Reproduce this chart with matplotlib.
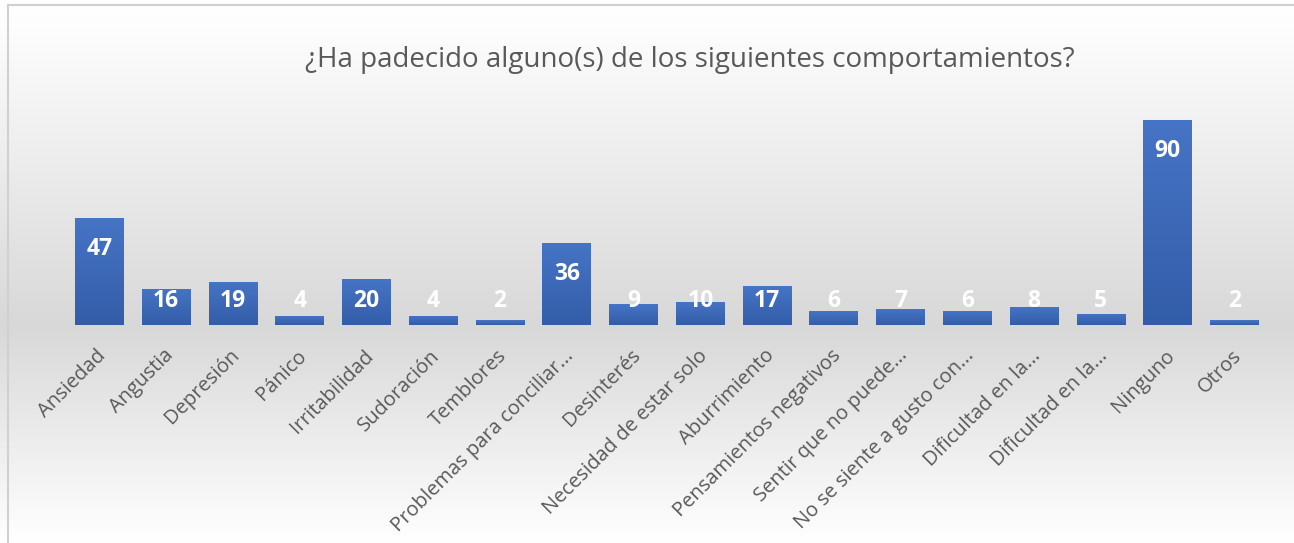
import matplotlib
matplotlib.use("Agg")
import matplotlib.pyplot as plt
import matplotlib.transforms as mtransforms
from matplotlib.colors import LinearSegmentedColormap
import numpy as np

categories = ["Ansiedad", "Angustia", "Depresión", "Pánico", "Irritabilidad",
              "Sudoración", "Temblores", "Problemas para conciliar...", "Desinterés",
              "Necesidad de estar solo", "Aburrimiento", "Pensamientos negativos",
              "Sentir que no puede...", "No se siente a gusto con...",
              "Dificultad en la...", "Dificultad en la...", "Ninguno", "Otros"]
values = [47, 16, 19, 4, 20, 4, 2, 36, 9, 10, 17, 6, 7, 6, 8, 5, 90, 2]
title = "¿Ha padecido alguno(s) de los siguientes comportamientos?"

plt.rcParams['font.family'] = ['Open Sans', 'DejaVu Sans']

fig = plt.figure(figsize=(12.94, 5.43), dpi=100)

# background gradient (white -> light gray -> white)
bg = fig.add_axes([0, 0, 1, 1], zorder=0)
bg_cmap = LinearSegmentedColormap.from_list(
    "bg", [(0.0, "#ffffff"), (0.05, "#fdfdfd"), (0.6, "#d8d8d8"), (1.0, "#ffffff")])
grad = np.linspace(0, 1, 256).reshape(-1, 1)
bg.imshow(grad, cmap=bg_cmap, aspect="auto", extent=[0, 1, 0, 1], origin="upper")
bg.set_xlim(0, 1)
bg.set_ylim(0, 1)
bg.axis("off")
# chart border (left and top)
bg.plot([8 / 1294, 8 / 1294], [0, 1 - 5 / 543], color="#d0d0d0", lw=1.5)
bg.plot([8 / 1294, 1], [1 - 5 / 543, 1 - 5 / 543], color="#d0d0d0", lw=1.5)

ax = fig.add_axes([66.1 / 1294, (543 - 325) / 543, 1201.7 / 1294, 227.8 / 543], zorder=1)
ax.patch.set_alpha(0)

x = np.arange(len(categories))
width = 0.73
bars = ax.bar(x, values, width=width, color="#3d67b7", zorder=2)

bar_cmap = LinearSegmentedColormap.from_list("bar", ["#4674c6", "#335da8"])
bar_grad = np.linspace(0, 1, 100).reshape(-1, 1)
for b in bars:
    im = ax.imshow(bar_grad, cmap=bar_cmap, aspect="auto", origin="upper",
                   extent=[b.get_x(), b.get_x() + b.get_width(), 0, b.get_height()],
                   zorder=3)
    im.set_clip_path(b)

for xi, v in zip(x, values):
    ax.text(xi, max(v - 13.6, 10.5), str(v), ha="center", va="center",
            color="white", fontsize=16.5, fontweight="bold", zorder=4)

ax.set_xlim(-0.5, len(categories) - 0.5)
ax.set_ylim(0, 100)
ax.set_xticks(x)
ax.set_xticklabels(categories, rotation=45, ha="right", va="center",
                   rotation_mode="anchor", fontsize=14.5, color="#595959")
ax.tick_params(axis="x", length=0, pad=20)
shift = mtransforms.ScaledTranslation(4 / 100, 0, fig.dpi_scale_trans)
for lbl in ax.get_xticklabels():
    lbl.set_transform(lbl.get_transform() + shift)
ax.set_yticks([])
for s in ax.spines.values():
    s.set_visible(False)

fig.text(690 / 1294, 1 - 60 / 543, title, ha="center", va="center",
         fontsize=20, color="#595959", zorder=5)

fig.savefig("out.png", dpi=100)
